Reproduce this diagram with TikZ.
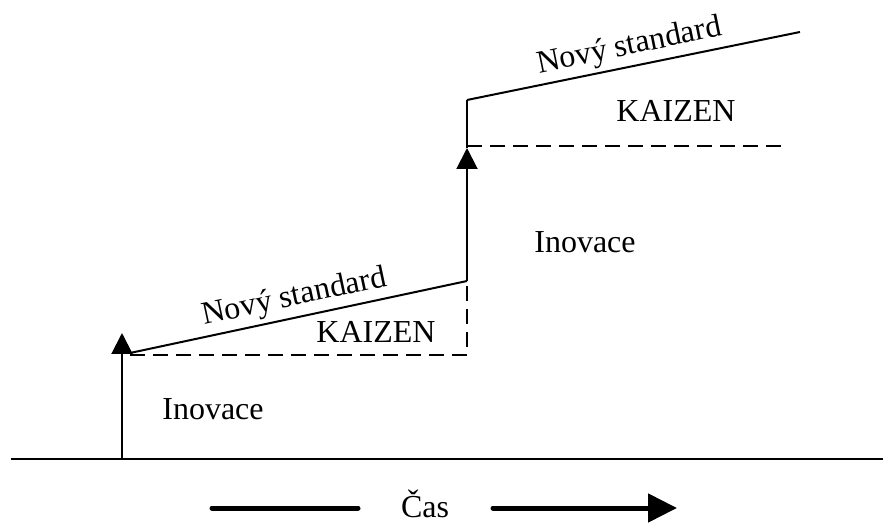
\documentclass[tikz,border=0pt]{standalone}
\usepackage{fontspec}
\setmainfont{Liberation Serif}
\usetikzlibrary{arrows.meta}
\begin{document}
\begin{tikzpicture}[x=0.5pt,y=-0.5pt,
  line width=1pt,
  label/.style={font=\fontsize{16pt}{19pt}\selectfont, inner sep=0pt, anchor=base},
  slopedlabel/.style={font=\fontsize{16pt}{19pt}\selectfont, inner sep=2pt, above, sloped, midway},
  guide/.style={dash pattern=on 7.5pt off 4pt},
  rise/.style={-{Triangle[length=10.5pt,width=10.5pt]}},
  timeline/.style={line width=2.5pt, line cap=round}]
\useasboundingbox (0,0) rectangle (883,523);

% key points
\coordinate (axisL) at (11,459);
\coordinate (axisR) at (883,459);
\coordinate (a0) at (122,459);
\coordinate (a1) at (122,333);
\coordinate (s1) at (130,353);
\coordinate (d1) at (130,355);
\coordinate (c1) at (467,355);
\coordinate (t1) at (467,281);
\coordinate (b2) at (467,148);
\coordinate (t2) at (467,100);
\coordinate (d2) at (781,146);
\coordinate (e2) at (800,32);

% time axis
\draw (axisL) -- (axisR);

% first innovation step and improvement
\draw[rise] (a0) -- (a1);
\draw[guide] (d1) -- (c1) -- (t1);
\draw (s1) -- (t1) node[slopedlabel] {Nový standard};

% second innovation step and improvement
\draw[rise] (t1) -- (b2);
\draw (b2) -- (t2);
\draw[guide] (467,146) -- (d2);
\draw (t2) -- (e2) node[slopedlabel] {Nový standard};

% labels
\node[label] (inov1) at (213,420) {Inovace};
\node[label] (kai1) at (376,343) {KAIZEN};
\node[label] (inov2) at (585,253) {Inovace};
\node[label] (kai2) at (676,122) {KAIZEN};

% time arrow
\node[label] (cas) at (425,517) {Čas};
\coordinate (tl0) at (212,508);
\coordinate (tl1) at (358,508);
\coordinate (tr0) at (493,508);
\coordinate (tr1) at (677,508);
\draw[timeline] (tl0) -- (tl1);
\draw[timeline, -{Triangle[length=14.5pt,width=14pt]}] (tr0) -- (tr1);
\end{tikzpicture}
\end{document}
